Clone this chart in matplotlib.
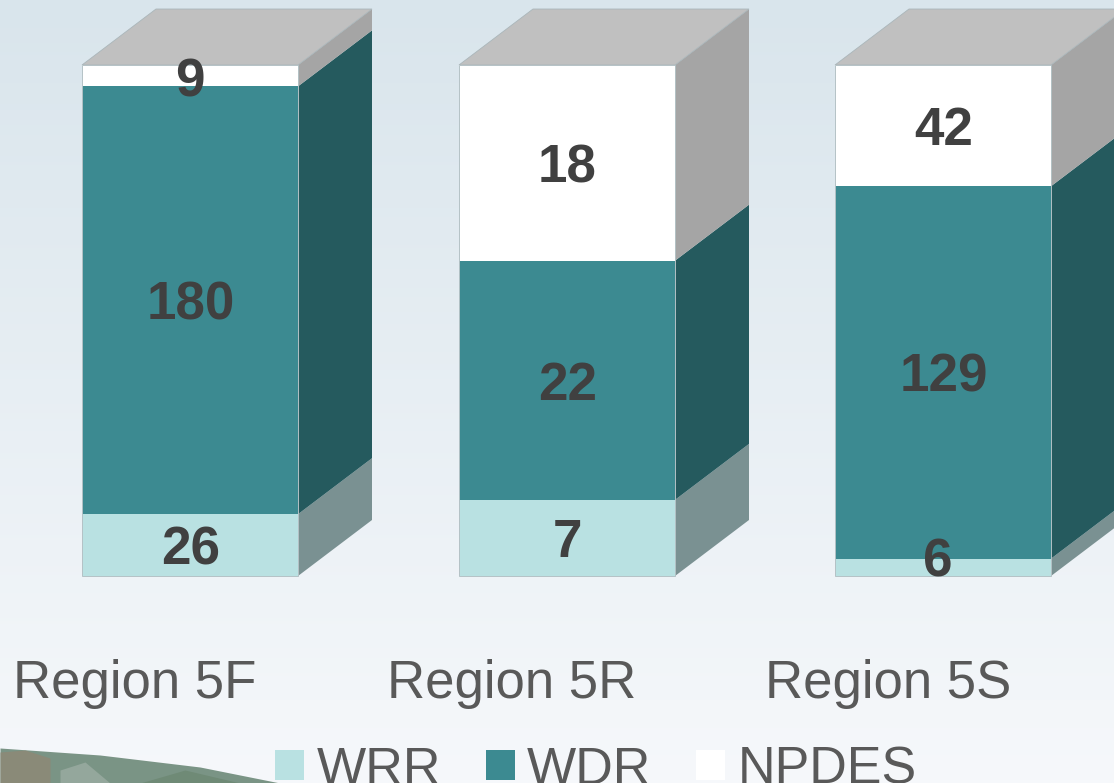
import numpy as np
import matplotlib
matplotlib.use("Agg")
import matplotlib.pyplot as plt
from matplotlib.patches import Polygon, Patch

plt.rcParams['font.family'] = ['Liberation Sans', 'DejaVu Sans']

regions = ["Region 5F", "Region 5R", "Region 5S"]
wrr = [26, 7, 6]
wdr = [180, 22, 129]
npdes = [9, 18, 42]

series_names = ["WRR", "WDR", "NPDES"]
front_cols = ["#b9e1e2", "#3c8a91", "#ffffff"]
side_cols = ["#7a9192", "#255a5e", "#a5a5a5"]
top_col = "#c0c0c0"
text_col = "#404040"
label_col = "#595959"

bar_left = [82, 459, 835]
bar_w = 216
depth_x = 74
depth_y = 56 / 511

# the 6 and the 9 were nudged by hand in the original
nudge = {(0, 2): (-1, 1), (2, 0): (-6, -10)}

W, H = 1114, 783
fig = plt.figure(figsize=(W / 100, H / 100), dpi=100)

# background
bg = fig.add_axes([0, 0, 1, 1], zorder=0)
bg.axis("off")
c1 = np.array([0xd9, 0xe5, 0xec]) / 255
c2 = np.array([0xf6, 0xf8, 0xfb]) / 255
t = np.linspace(0, 1, 256)[:, None, None]
grad = c1[None, None, :] * (1 - t) + c2[None, None, :] * t
bg.imshow(grad, aspect="auto", extent=[0, W, H, 0])
bg.set_xlim(0, W)
bg.set_ylim(H, 0)

# strip of landscape photo in the corner
edge_x = [0, 100, 200, 280]
edge_y = [748, 755, 767, 783]
bg.fill_between(edge_x, edge_y, H, color="#7a9485", lw=0)
bg.fill_between([0, 25, 50], [752, 750, 758], H, color="#8a8a78", lw=0)
bg.fill_between([60, 85, 110], [770, 762, 783], H, color="#94a79c", lw=0)
bg.fill_between([140, 185, 240], [783, 770, 783], H, color="#6f8a76", lw=0)

# chart
ax = fig.add_axes([0, 1 - 576 / H, 1, 511 / H], zorder=1)
ax.patch.set_alpha(0)
ax.set_xlim(0, W)
ax.set_ylim(0, 1)
ax.axis("off")

data = np.array([wrr, wdr, npdes], dtype=float)
shares = data / data.sum(axis=0)

for i, left in enumerate(bar_left):
    right = left + bar_w
    bottom = 0
    for s in range(3):
        h = shares[s, i]
        ax.bar(left, h, bar_w, bottom=bottom, align="edge", color=front_cols[s],
               lw=0, clip_on=False, zorder=3)
        ax.add_patch(Polygon([(right, bottom), (right + depth_x, bottom + depth_y),
                              (right + depth_x, bottom + h + depth_y), (right, bottom + h)],
                             closed=True, fc=side_cols[s], ec="none", clip_on=False, zorder=2))
        dx, dy = nudge.get((i, s), (0, 0))
        ax.annotate(f"{int(data[s, i])}", (left + bar_w / 2, bottom + h / 2),
                    xytext=(dx * 0.72 + 0.4, -dy * 0.72 + 0.1), textcoords="offset points",
                    ha="center", va="center_baseline", fontsize=38.2, fontweight="bold",
                    color=text_col, zorder=5, annotation_clip=False)
        bottom += h
    ax.bar(left, 1, bar_w, align="edge", fill=False, edgecolor="#b4c2c6", lw=0.7,
           clip_on=False, zorder=4)
    ax.add_patch(Polygon([(left, 1), (left + depth_x, 1 + depth_y),
                          (right + depth_x, 1 + depth_y), (right, 1)],
                         closed=True, fc=top_col, ec="#aab6ba", lw=0.6, clip_on=False, zorder=2))
    ax.text(left + bar_w / 2 - 55, -0.238, regions[i], ha="center", va="baseline",
            fontsize=38, color=label_col, clip_on=False)

# legend runs off the bottom edge, same as the original
handles = [Patch(fc=front_cols[s], ec="none") for s in range(3)]
fig.legend(handles, series_names, loc="lower left", bbox_to_anchor=(239 / W, -48 / H),
           ncol=3, frameon=False, fontsize=37.5, labelcolor=label_col,
           handlelength=0.55, handleheight=0.5, handletextpad=0.24, columnspacing=0.86,
           borderpad=0.2)

fig.savefig("out.png", dpi=100)
